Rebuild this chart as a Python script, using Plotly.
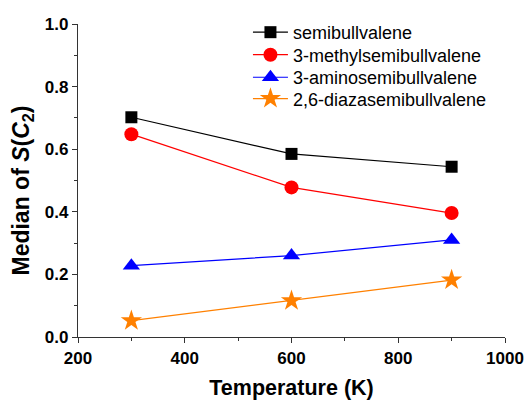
import plotly.graph_objects as go

# Median S(C2) order parameter versus temperature for four semibullvalenes
temperature = [300, 600, 900]
semibullvalene = [0.702, 0.585, 0.544]
methyl_sbv = [0.648, 0.478, 0.396]
amino_sbv = [0.228, 0.260, 0.310]
diaza_sbv = [0.052, 0.116, 0.182]

series = [
    ("semibullvalene", semibullvalene, "#000000", "square", 12),
    ("3-methylsemibullvalene", methyl_sbv, "#FF0000", "circle", 14),
    ("3-aminosemibullvalene", amino_sbv, "#0000FF", "triangle-up", 15),
    ("2,6-diazasemibullvalene", diaza_sbv, "#FF8000", "star", 16),
]

FONT = "Liberation Sans, Arial"
# one single-entry legend per series, stacked with a tight row pitch
legend_ids = ["legend", "legend2", "legend3", "legend4"]
legend_tops = [1.032, 0.960, 0.888, 0.820]

fig = go.Figure()
for (name, vals, color, symbol, size), lid in zip(series, legend_ids):
    fig.add_trace(go.Scatter(
        x=temperature, y=vals, name=name, mode="lines+markers",
        line=dict(color=color, width=1.2),
        marker=dict(symbol=symbol, size=size, color=color, line=dict(width=0)),
        legend=lid, showlegend=True,
    ))

axis_common = dict(
    showline=True, linecolor="#333333", linewidth=1.2,
    ticks="outside", ticklen=5, tickwidth=1.2, tickcolor="#333333",
    showgrid=False, zeroline=False, mirror=False, automargin=False,
    tickfont=dict(family=FONT, size=17, color="#000000", weight="bold"),
)

fig.update_xaxes(
    range=[200, 1000], dtick=200, tick0=200,
    minor=dict(dtick=100, ticks="outside", ticklen=3, tickcolor="#333333"),
    title_text="Temperature (K)", title_standoff=22,
    title_font=dict(family=FONT, size=21.5, color="#000000", weight="bold"),
    **axis_common,
)
fig.update_yaxes(
    range=[0, 1.0], dtick=0.2, tickformat=".1f",
    minor=dict(dtick=0.1, ticks="outside", ticklen=3, tickcolor="#333333"),
    **axis_common,
)

# y-axis title placed as a rotated annotation left of the tick labels
fig.add_annotation(
    text="Median of <i>S</i>(<i>C</i><sub>2</sub>)",
    xref="paper", yref="paper", x=0, y=0.468,
    xanchor="center", yanchor="middle", xshift=-55,
    textangle=-90, showarrow=False,
    font=dict(family=FONT, size=23, color="#000000", weight="bold"),
)

legend_style = dict(
    x=0.398, xanchor="left", yanchor="top",
    font=dict(family=FONT, size=18, color="#000000"),
    bgcolor="rgba(0,0,0,0)", itemwidth=35,
)

fig.update_layout(
    width=527, height=400,
    showlegend=True,
    margin=dict(l=78, r=22, t=24, b=63, autoexpand=False),
    plot_bgcolor="white", paper_bgcolor="white",
    **{lid: dict(y=top, **legend_style) for lid, top in zip(legend_ids, legend_tops)},
)

fig.write_html("out.html")
